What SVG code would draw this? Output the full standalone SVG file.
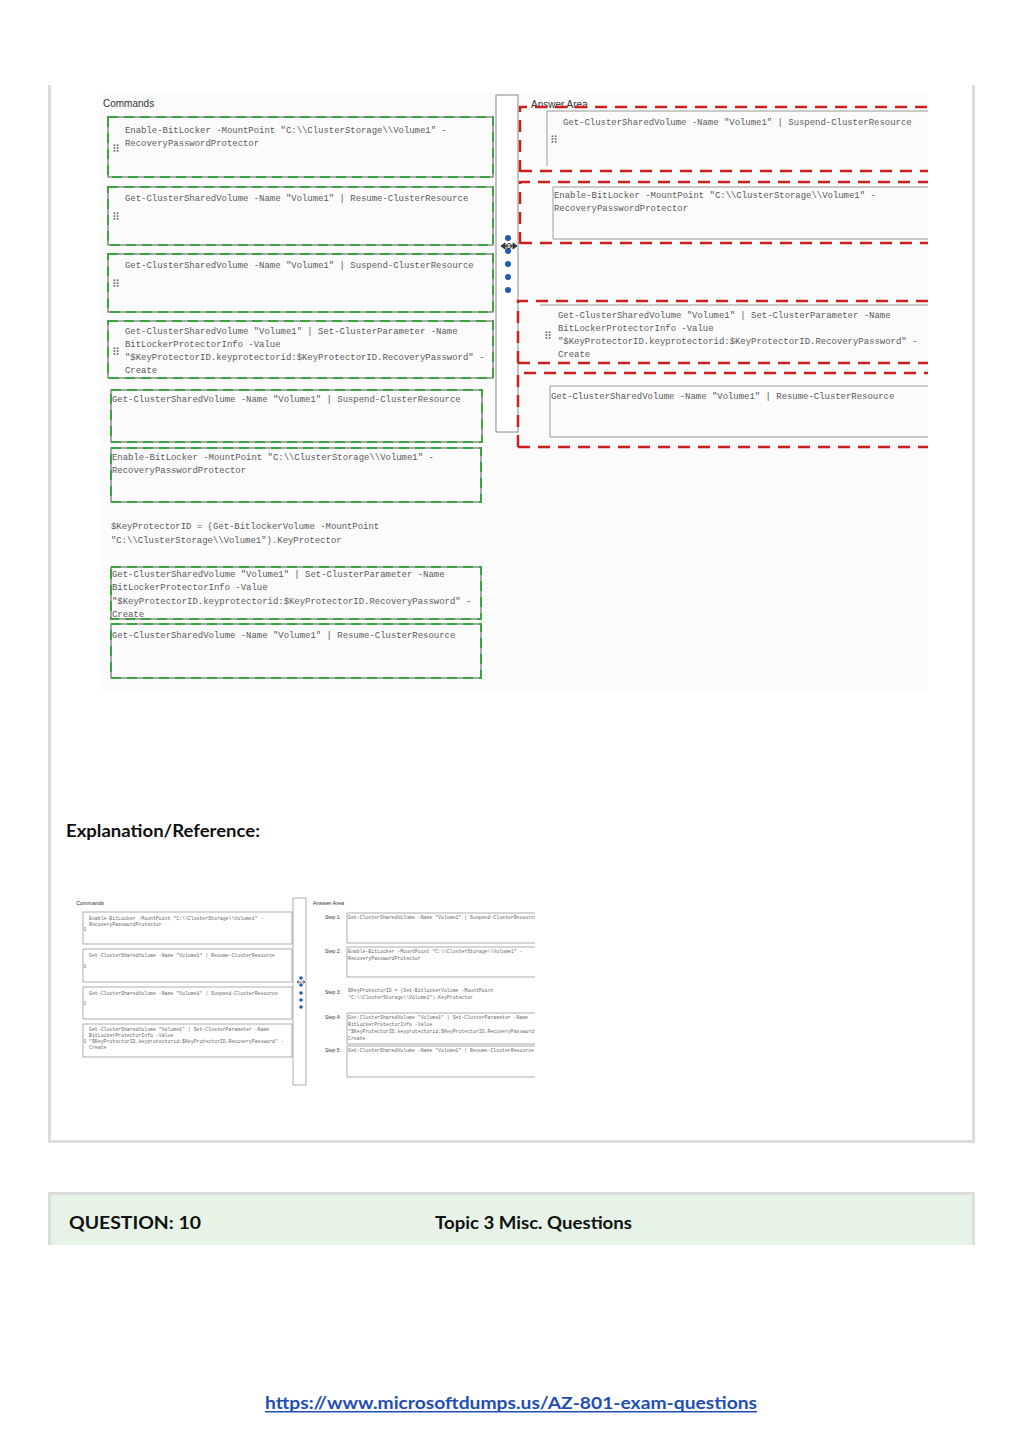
<svg xmlns="http://www.w3.org/2000/svg" xmlns:xlink="http://www.w3.org/1999/xlink" width="1024" height="1446" viewBox="0 0 1024 1446">
<style>
.mono{font-family:"Liberation Mono","DejaVu Sans Mono",monospace;font-size:8.95px;fill:#5a5a5a}
.sm{font-family:"Liberation Mono","DejaVu Sans Mono",monospace;font-size:4.85px;fill:#666}
.lbl{font-family:"Liberation Sans",Arial,sans-serif;fill:#333}
.gbox{fill:none;stroke:#555;stroke-width:1}
.ibox{fill:none;stroke:#9a9a9a;stroke-width:1}
.gdash{fill:none;stroke:#3ea53e;stroke-width:2;stroke-dasharray:10 6}
.rdash{fill:none;stroke:#cc1f1f;stroke-width:2.5;stroke-dasharray:12 8}
.sbox{fill:#fff;stroke:#999;stroke-width:0.8}
.head{font-family:"Lato","Liberation Sans",sans-serif;font-weight:bold;fill:#111}
.dot{fill:#1f5cb8}
</style>
<defs>
<g id="grip" fill="#6a6a6a"><rect x="-2.4" y="-3.6" width="1.7" height="1.7"/><rect x="0.8" y="-3.6" width="1.7" height="1.7"/><rect x="-2.4" y="-0.8" width="1.7" height="1.7"/><rect x="0.8" y="-0.8" width="1.7" height="1.7"/><rect x="-2.4" y="2" width="1.7" height="1.7"/><rect x="0.8" y="2" width="1.7" height="1.7"/></g>
<g id="gripS" fill="#777"><rect x="-1" y="-1.6" width="0.8" height="0.8"/><rect x="0.4" y="-1.6" width="0.8" height="0.8"/><rect x="-1" y="-0.3" width="0.8" height="0.8"/><rect x="0.4" y="-0.3" width="0.8" height="0.8"/><rect x="-1" y="1" width="0.8" height="0.8"/><rect x="0.4" y="1" width="0.8" height="0.8"/></g>
<clipPath id="clipStep"><rect x="300" y="895" width="235" height="190"/></clipPath>
<clipPath id="clipTop"><rect x="95" y="90" width="833" height="600"/></clipPath>
</defs>

<rect width="1024" height="1446" fill="#fff"/>

<!-- page panel -->
<g id="panel">
<rect x="48" y="85" width="3" height="1058" fill="#dcdcdc"/>
<rect x="972" y="85" width="3" height="1058" fill="#dcdcdc"/>
<rect x="48" y="1140" width="927" height="3" fill="#dcdcdc"/>
</g>

<!-- top screenshot -->
<g id="screenshot-top" clip-path="url(#clipTop)">
<rect x="100" y="92" width="828" height="598" fill="#fafbfa"/>
<text class="lbl" x="103" y="107" font-size="10">Commands</text>

<g id="cmd1">
<rect class="gbox" x="108" y="117" width="385" height="60"/>
<rect class="gdash" x="108" y="117" width="385" height="60"/>
<use xlink:href="#grip" x="116" y="148"/>
<text class="mono" x="125" y="133">Enable-BitLocker -MountPoint "C:\\ClusterStorage\\Volume1" -</text>
<text class="mono" x="125" y="146">RecoveryPasswordProtector</text>
</g>
<g id="cmd2">
<rect class="gbox" x="108" y="187" width="385" height="58"/>
<rect class="gdash" x="108" y="187" width="385" height="58"/>
<use xlink:href="#grip" x="116" y="216"/>
<text class="mono" x="125" y="201">Get-ClusterSharedVolume -Name "Volume1" | Resume-ClusterResource</text>
</g>
<g id="cmd3">
<rect class="gbox" x="108" y="254" width="385" height="58"/>
<rect class="gdash" x="108" y="254" width="385" height="58"/>
<use xlink:href="#grip" x="116" y="283"/>
<text class="mono" x="125" y="268">Get-ClusterSharedVolume -Name "Volume1" | Suspend-ClusterResource</text>
</g>
<g id="cmd4">
<rect class="gbox" x="108" y="321" width="385" height="57"/>
<rect class="gdash" x="108" y="321" width="385" height="57"/>
<use xlink:href="#grip" x="116" y="351"/>
<text class="mono" x="125" y="334">Get-ClusterSharedVolume "Volume1" | Set-ClusterParameter -Name</text>
<text class="mono" x="125" y="347">BitLockerProtectorInfo -Value</text>
<text class="mono" x="125" y="360">"$KeyProtectorID.keyprotectorid:$KeyProtectorID.RecoveryPassword" -</text>
<text class="mono" x="125" y="373">Create</text>
</g>
<g id="cmd5">
<rect class="gbox" x="111" y="390" width="371" height="52"/>
<rect class="gdash" x="111" y="390" width="371" height="52"/>
<text class="mono" x="112" y="402">Get-ClusterSharedVolume -Name "Volume1" | Suspend-ClusterResource</text>
</g>
<g id="cmd6">
<rect class="gbox" x="111" y="448" width="370" height="54"/>
<rect class="gdash" x="111" y="448" width="370" height="54"/>
<text class="mono" x="112" y="460">Enable-BitLocker -MountPoint "C:\\ClusterStorage\\Volume1" -</text>
<text class="mono" x="112" y="473">RecoveryPasswordProtector</text>
</g>
<g id="cmd7">
<text class="mono" x="111" y="529">$KeyProtectorID = (Get-BitlockerVolume -MountPoint</text>
<text class="mono" x="111" y="543">"C:\\ClusterStorage\\Volume1").KeyProtector</text>
</g>
<g id="cmd8">
<rect class="gbox" x="111" y="567" width="370" height="52"/>
<rect class="gdash" x="111" y="567" width="370" height="52"/>
<text class="mono" x="112" y="577">Get-ClusterSharedVolume "Volume1" | Set-ClusterParameter -Name</text>
<text class="mono" x="112" y="590">BitLockerProtectorInfo -Value</text>
<text class="mono" x="112" y="604">"$KeyProtectorID.keyprotectorid:$KeyProtectorID.RecoveryPassword" -</text>
<text class="mono" x="112" y="617">Create</text>
</g>
<g id="cmd9">
<rect class="gbox" x="111" y="624" width="370" height="54"/>
<rect class="gdash" x="111" y="624" width="370" height="54"/>
<text class="mono" x="112" y="638">Get-ClusterSharedVolume -Name "Volume1" | Resume-ClusterResource</text>
</g>

<g id="divider">
<rect x="496" y="95" width="22" height="337" fill="#fff" stroke="#888" stroke-width="1"/>
<circle class="dot" cx="508" cy="238" r="3"/>
<circle class="dot" cx="508" cy="251" r="3"/>
<circle class="dot" cx="508" cy="264" r="3"/>
<circle class="dot" cx="508" cy="277" r="3"/>
<circle class="dot" cx="508" cy="290" r="3"/>
<path d="M501 246 L505 243 L505 249 Z M517 246 L513 243 L513 249 Z M504 246 H514" fill="#333" stroke="#333" stroke-width="1"/>
<circle cx="509" cy="246" r="2.5" fill="none" stroke="#333" stroke-width="1"/>
</g>

<text class="lbl" x="531" y="108" font-size="10">Answer Area</text>

<g id="ans1">
<path class="rdash" d="M520 172 V107 H928"/>
<path class="rdash" d="M520 171 H928"/>
<path class="ibox" d="M547 166 V111 H928"/>
<use xlink:href="#grip" x="554" y="139"/>
<text class="mono" x="563" y="125">Get-ClusterSharedVolume -Name "Volume1" | Suspend-ClusterResource</text>
</g>
<g id="ans2">
<path class="rdash" d="M520 244 V182 H928"/>
<path class="rdash" d="M520 243 H928"/>
<path class="ibox" d="M928 239 H553 V187 H928"/>
<text class="mono" x="554" y="198">Enable-BitLocker -MountPoint "C:\\ClusterStorage\\Volume1" -</text>
<text class="mono" x="554" y="211">RecoveryPasswordProtector</text>
</g>
<g id="ans3">
<path class="rdash" d="M518 363 V301 H928"/>
<path class="rdash" d="M518 363 H928"/>
<path class="ibox" d="M540 305 H928"/>
<use xlink:href="#grip" x="548" y="335"/>
<text class="mono" x="558" y="318">Get-ClusterSharedVolume "Volume1" | Set-ClusterParameter -Name</text>
<text class="mono" x="558" y="331">BitLockerProtectorInfo -Value</text>
<text class="mono" x="558" y="344">"$KeyProtectorID.keyprotectorid:$KeyProtectorID.RecoveryPassword" -</text>
<text class="mono" x="558" y="357">Create</text>
</g>
<g id="ans4">
<path class="rdash" d="M518 447 V373 H928"/>
<path class="rdash" d="M518 447 H928"/>
<path class="ibox" d="M928 437 H550 V386 H928"/>
<text class="mono" x="551" y="399">Get-ClusterSharedVolume -Name "Volume1" | Resume-ClusterResource</text>
</g>
</g>

<text class="head" x="66" y="837" font-size="16.5" textLength="194" lengthAdjust="spacingAndGlyphs">Explanation/Reference:</text>

<!-- explanation screenshot -->
<g id="screenshot-ref">
<text class="lbl" x="76" y="905" font-size="5.5">Commands</text>
<g id="ref-cmd1">
<rect class="sbox" x="83" y="912" width="209" height="32"/>
<use xlink:href="#gripS" x="85" y="929"/>
<text class="sm" x="89" y="920">Enable-BitLocker -MountPoint "C:\\ClusterStorage\\Volume1" -</text>
<text class="sm" x="89" y="926">RecoveryPasswordProtector</text>
</g>
<g id="ref-cmd2">
<rect class="sbox" x="83" y="949" width="209" height="33"/>
<use xlink:href="#gripS" x="85" y="966"/>
<text class="sm" x="89" y="957">Get-ClusterSharedVolume -Name "Volume1" | Resume-ClusterResource</text>
</g>
<g id="ref-cmd3">
<rect class="sbox" x="83" y="987" width="209" height="32"/>
<use xlink:href="#gripS" x="85" y="1003"/>
<text class="sm" x="89" y="995">Get-ClusterSharedVolume -Name "Volume1" | Suspend-ClusterResource</text>
</g>
<g id="ref-cmd4">
<rect class="sbox" x="83" y="1024" width="209" height="33"/>
<use xlink:href="#gripS" x="85" y="1041"/>
<text class="sm" x="89" y="1031">Get-ClusterSharedVolume "Volume1" | Set-ClusterParameter -Name</text>
<text class="sm" x="89" y="1037">BitLockerProtectorInfo -Value</text>
<text class="sm" x="89" y="1043">"$KeyProtectorID.keyprotectorid:$KeyProtectorID.RecoveryPassword" -</text>
<text class="sm" x="89" y="1049">Create</text>
</g>
<g id="ref-divider">
<rect x="293" y="898" width="13" height="187" fill="#fff" stroke="#999" stroke-width="0.8"/>
<circle class="dot" cx="301" cy="978" r="1.8"/>
<circle class="dot" cx="301" cy="985" r="1.8"/>
<circle class="dot" cx="301" cy="993" r="1.8"/>
<circle class="dot" cx="301" cy="1000" r="1.8"/>
<circle class="dot" cx="301" cy="1007" r="1.8"/>
<path d="M297 982 H305 M297 982 L299 980.5 M297 982 L299 983.5 M305 982 L303 980.5 M305 982 L303 983.5" stroke="#333" stroke-width="0.7" fill="none"/>
</g>
<text class="lbl" x="313" y="905" font-size="5.5">Answer Area</text>
<g clip-path="url(#clipStep)">
<g id="step1">
<text class="lbl" x="325" y="919" font-size="5" fill="#777">Step 1:</text>
<rect class="sbox" x="347" y="913" width="200" height="30"/>
<text class="sm" x="348" y="919">Get-ClusterSharedVolume -Name "Volume1" | Suspend-ClusterResource</text>
</g>
<g id="step2">
<text class="lbl" x="325" y="953" font-size="5" fill="#777">Step 2:</text>
<rect class="sbox" x="347" y="947" width="200" height="30"/>
<text class="sm" x="348" y="953">Enable-BitLocker -MountPoint "C:\\ClusterStorage\\Volume1" -</text>
<text class="sm" x="348" y="960">RecoveryPasswordProtector</text>
</g>
<g id="step3">
<text class="lbl" x="325" y="994" font-size="5" fill="#777">Step 3:</text>
<text class="sm" x="348" y="992">$KeyProtectorID = (Get-BitlockerVolume -MountPoint</text>
<text class="sm" x="348" y="999">"C:\\ClusterStorage\\Volume1").KeyProtector</text>
</g>
<g id="step4">
<text class="lbl" x="325" y="1019" font-size="5" fill="#777">Step 4:</text>
<rect class="sbox" x="347" y="1013" width="200" height="31"/>
<text class="sm" x="348" y="1019">Get-ClusterSharedVolume "Volume1" | Set-ClusterParameter -Name</text>
<text class="sm" x="348" y="1026">BitLockerProtectorInfo -Value</text>
<text class="sm" x="348" y="1033">"$KeyProtectorID.keyprotectorid:$KeyProtectorID.RecoveryPassword" -</text>
<text class="sm" x="348" y="1040">Create</text>
</g>
<g id="step5">
<text class="lbl" x="325" y="1052" font-size="5" fill="#777">Step 5:</text>
<rect class="sbox" x="347" y="1046" width="200" height="31"/>
<text class="sm" x="348" y="1052">Get-ClusterSharedVolume -Name "Volume1" | Resume-ClusterResource</text>
</g>
</g>
</g>

<!-- question bar -->
<g id="question-bar">
<rect x="48" y="1192" width="927" height="53" fill="#e6f3e6"/>
<rect x="48" y="1192" width="927" height="3" fill="#dcdcdc"/>
<rect x="48" y="1192" width="3" height="53" fill="#dcdcdc"/>
<rect x="972" y="1192" width="3" height="53" fill="#dcdcdc"/>
<text class="head" x="69" y="1229" font-size="16.5" textLength="132" lengthAdjust="spacingAndGlyphs">QUESTION: 10</text>
<text class="head" x="435" y="1229" font-size="16.5" textLength="197" lengthAdjust="spacingAndGlyphs">Topic 3 Misc. Questions</text>
</g>

<g id="link">
<text x="265" y="1409" font-family="Lato,'Liberation Sans',sans-serif" font-weight="bold" font-size="17.5" fill="#1f4fb3" textLength="492" lengthAdjust="spacingAndGlyphs">https://www.microsoftdumps.us/AZ-801-exam-questions</text>
<rect x="265" y="1411" width="492" height="1.5" fill="#1f4fb3"/>
</g>
</svg>
